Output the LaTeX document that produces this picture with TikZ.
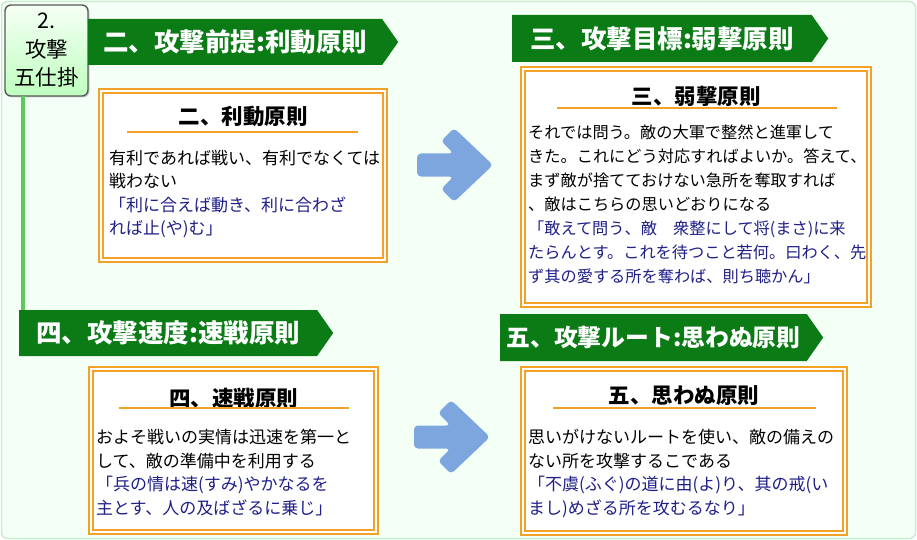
\documentclass[tikz,border=0pt]{standalone}
\usepackage{fontspec}
\setmainfont{Noto Sans CJK JP}
\usetikzlibrary{shapes.symbols,shadows,positioning}

\definecolor{bangreen}{HTML}{0B7B16}
\definecolor{bgmint}{HTML}{F4FFF6}
\definecolor{bgedge}{HTML}{C9EDCF}
\definecolor{boxorange}{HTML}{F3A227}
\definecolor{quoteblue}{HTML}{1F1F88}
\definecolor{arrowblue}{HTML}{7EA6DE}
\definecolor{linegreen}{HTML}{5DC95D}

\newcommand{\quo}[1]{\textcolor{quoteblue}{#1}}

\begin{document}
\begin{tikzpicture}[x=1pt,y=-1pt,
  banner/.style={shape=signal, signal to=east, signal pointer angle=110,
    fill=bangreen, text=white, inner sep=0,
    font=\bfseries\fontsize{25.5}{25.5}\selectfont},
  rulebox/.style={draw=boxorange, line width=2pt, double=white,
    double distance=1.2pt, fill=white},
  boxtitle/.style={inner sep=0, font=\bfseries\fontsize{21.5}{22}\selectfont},
  boxtext/.style={anchor=north west, inner sep=0, align=left,
    font=\fontsize{17}{23.5}\selectfont},
  uline/.style={boxorange, line width=2pt},
  vline/.style={linegreen, line width=4pt},
  bluearrow/.pic={
    \fill[arrowblue, rounded corners=4pt] (0,0) -- (-39,-37) -- (-52,-24)
      -- (-39.5,-11.5) -- (-76,-11.5) -- (-76,11.5) -- (-39.5,11.5)
      -- (-52,24) -- (-39,37) -- cycle;
  }]
\useasboundingbox (0,0) rectangle (917,540);
%background panel
\draw[bgedge, fill=bgmint, line width=1.5pt, rounded corners=6pt] (1.5,1.5) rectangle (915.5,538.5);

%badge in the corner
\node[draw=black!65, line width=1.4pt, rounded corners=6pt,
  top color=green!4, bottom color=green!25!white,
  drop shadow={shadow xshift=1.5pt, shadow yshift=-1.5pt, opacity=.35},
  minimum width=83, minimum height=91, align=center, inner sep=0,
  font=\fontsize{21.5}{28.5}\selectfont] (badge) at (46.5,50.5) {2.\\攻撃\\五仕掛};

%the four banners
\node[banner, minimum width=310, minimum height=46, anchor=west] (ban1) at (88,42) {二、攻撃前提:利動原則};
\node[banner, minimum width=316, minimum height=47, anchor=west] (ban2) at (512,38.5) {三、攻撃目標:弱撃原則};
\node[banner, minimum width=314, minimum height=46, anchor=west] (ban3) at (19,333) {四、攻撃速度:速戦原則};
\node[banner, minimum width=323, minimum height=47, anchor=west,
  font=\bfseries\fontsize{23.8}{24}\selectfont] (ban4) at (500,337.5) {五、攻撃ルート:思わぬ原則};

%green line down from the badge
\coordinate (vtop) at (23,96);
\draw[vline] (vtop) -- (vtop |- ban3.north);

%boxes
\node[rulebox, minimum width=284, minimum height=169] (box1) at (243,175.5) {};
\node[rulebox, minimum width=346, minimum height=236] (box2) at (696,187) {};
\node[rulebox, minimum width=285, minimum height=163] (box3) at (233.5,450.5) {};
\node[rulebox, minimum width=322, minimum height=164] (box4) at (684,451) {};

%titles and their lines
\node[boxtitle] (t1) at ([yshift=-26pt]box1.north) {二、利動原則};
\node[boxtitle] (t2) at ([yshift=-28pt]box2.north) {三、弱撃原則};
\node[boxtitle] (t3) at ([yshift=-30pt]box3.north) {四、速戦原則};
\node[boxtitle] (t4) at ([yshift=-28pt]box4.north) {五、思わぬ原則};
\draw[uline] ([xshift=-116pt,yshift=-6pt]t1.south) -- ([xshift=115pt,yshift=-6pt]t1.south);
\draw[uline] ([xshift=-139pt,yshift=-2pt]t2.south) -- ([xshift=141pt,yshift=-2pt]t2.south);
\draw[uline] ([xshift=-115pt,yshift=0pt]t3.south) -- ([xshift=115pt,yshift=0pt]t3.south);
\draw[uline] ([xshift=-131pt,yshift=-2pt]t4.south) -- ([xshift=132pt,yshift=-2pt]t4.south);

%text of the boxes
\node[boxtext] (x1) at ([xshift=9pt,yshift=-60pt]box1.north west)
  {有利であれば戦い、有利でなくては\\戦わない\\
   \quo{「利に合えば動き、利に合わざ}\\\quo{れば止(や)む」}};
\node[boxtext, font=\fontsize{16.2}{24}\selectfont] (x2) at ([xshift=6pt,yshift=-57pt]box2.north west)
  {それでは問う。敵の大軍で整然と進軍して\\きた。これにどう対応すればよいか。答えて、\\
   まず敵が捨てておけない急所を奪取すれば\\、敵はこちらの思いどおりになる\\
   \quo{「敢えて問う、敵　衆整にして将(まさ)に来}\\
   \quo{たらんとす。これを待つこと若何。曰わく、先}\\
   \quo{ず其の愛する所を奪わば、則ち聴かん」}};
\node[boxtext] (x3) at ([xshift=6pt,yshift=-61pt]box3.north west)
  {およそ戦いの実情は迅速を第一と\\して、敵の準備中を利用する\\
   \quo{「兵の情は速(すみ)やかなるを}\\\quo{主とす、人の及ばざるに乗じ」}};
\node[boxtext] (x4) at ([xshift=6pt,yshift=-61pt]box4.north west)
  {思いがけないルートを使い、敵の備えの\\ない所を攻撃するこである\\
   \quo{「不虞(ふぐ)の道に由(よ)り、其の戒(い}\\\quo{まし)めざる所を攻むるなり」}};

%blue arrows between the boxes
\coordinate (ar1) at (493,165);
\coordinate (ar2) at (490,437);
\pic at (ar1) {bluearrow};
\pic at (ar2) {bluearrow};
\end{tikzpicture}
\end{document}
